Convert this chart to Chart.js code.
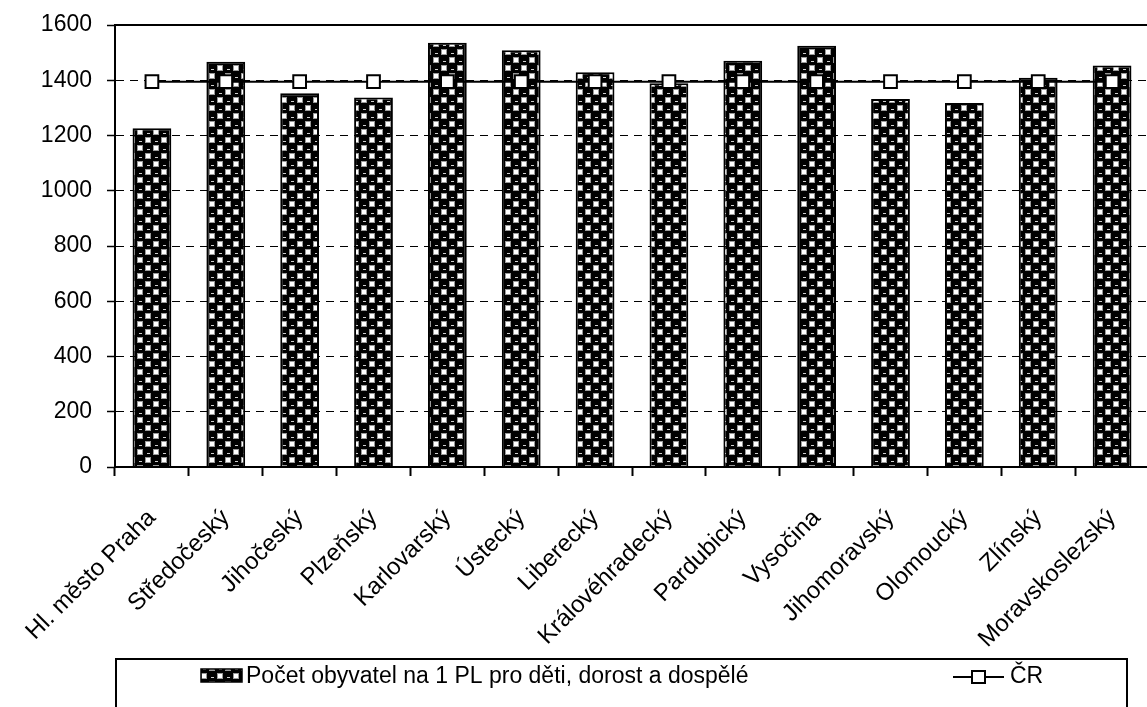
<!DOCTYPE html>
<html>
<head>
<meta charset="utf-8">
<script src="https://cdn.jsdelivr.net/npm/chart.js@4/dist/chart.umd.min.js"></script>
<style>
  html, body { margin: 0; padding: 0; overflow: hidden; background: #fff; }
  #wrap { width: 1160px; height: 707px; }
</style>
</head>
<body>
<div id="wrap"><canvas id="graf" width="1160" height="707"></canvas></div>
<script>
// kraje
var kraje = ["Hl. město Praha", "Středočeský", "Jihočeský", "Plzeňský", "Karlovarský", "Ústecký",
    "Liberecký", "Královéhradecký", "Pardubický", "Vysočina", "Jihomoravský", "Olomoucký",
    "Zlínský", "Moravskoslezský"];

// pocet obyvatel na 1 PL
var obyvatelNaPL = [1226, 1467, 1353, 1338, 1536, 1509, 1429, 1389, 1471, 1525, 1332, 1318, 1409, 1453];

// prumer CR
var prumerCR = [1395, 1395, 1395, 1395, 1395, 1395, 1395, 1395, 1395, 1395, 1395, 1395, 1395, 1395];

var osaY = [0, 200, 400, 600, 800, 1000, 1200, 1400, 1600];

var nazevBar = "Počet obyvatel na 1 PL pro děti, dorost a dospělé";
var nazevLine = "ČR";

var pismo = "'Liberation Sans', Arial, sans-serif";

// vzorek s kulickama jako v excelu
function udelejVzorek() {
    var c = document.createElement('canvas');
    c.width = 16;
    c.height = 16;
    var x = c.getContext('2d');
    x.fillStyle = '#000';
    x.fillRect(0, 0, 16, 16);
    // bile ctverecky
    x.fillStyle = '#fff';
    x.strokeStyle = '#999';
    x.lineWidth = 1;
    x.fillRect(10, 2, 4, 4);
    x.strokeRect(9.5, 1.5, 5, 5);
    x.fillRect(2, 10, 4, 4);
    x.strokeRect(1.5, 9.5, 5, 5);
    // odlesky na kulickach
    x.fillStyle = '#cfcfcf';
    x.fillRect(3, 5, 3, 1);
    x.fillRect(11, 13, 3, 1);
    return x.createPattern(c, 'repeat');
}
var vzorek = udelejVzorek();

var ramecek = {
    id: 'ramecek',
    afterDraw: function (chart) {
        var ctx = chart.ctx;
        var a = chart.chartArea;
        ctx.save();
        ctx.strokeStyle = '#000';
        ctx.lineWidth = 2;
        ctx.strokeRect(a.left, a.top, a.right - a.left, a.bottom - a.top);

        // legenda dole
        ctx.strokeRect(116, 659, 1011, 80);
        ctx.fillStyle = vzorek;
        ctx.fillRect(201, 669, 41, 13);
        ctx.lineWidth = 1.5;
        ctx.strokeRect(201, 669, 41, 13);

        ctx.fillStyle = '#000';
        ctx.font = '23px ' + pismo;
        ctx.textBaseline = 'middle';
        ctx.textAlign = 'left';
        ctx.fillText(chart.data.datasets[1].label, 246, 677);

        ctx.lineWidth = 2;
        ctx.beginPath();
        ctx.moveTo(953, 677);
        ctx.lineTo(1004, 677);
        ctx.stroke();
        ctx.fillStyle = '#fff';
        ctx.fillRect(972, 671, 13, 12);
        ctx.strokeRect(972, 671, 13, 12);
        ctx.fillStyle = '#000';
        ctx.fillText(chart.data.datasets[0].label, 1010, 677);
        ctx.restore();
    }
};

var ctx = document.getElementById('graf');
var myChart = new Chart(ctx, {
    type: 'bar',
    data: {
        labels: kraje,
        datasets: [{
            type: 'line',
            label: nazevLine,
            data: prumerCR,
            borderColor: '#000',
            borderWidth: 2,
            pointStyle: 'rect',
            pointRadius: 9,
            pointBackgroundColor: '#fff',
            pointBorderColor: '#000',
            pointBorderWidth: 2,
            order: 0
        }, {
            label: nazevBar,
            data: obyvatelNaPL,
            backgroundColor: vzorek,
            borderColor: '#000',
            borderWidth: 2,
            barPercentage: 0.525,
            categoryPercentage: 1,
            order: 1
        }]
    },
    options: {
        responsive: false,
        animation: false,
        layout: { padding: { top: 25, right: 5, left: 0, bottom: 0 } },
        plugins: {
            legend: { display: false },
            tooltip: { enabled: false }
        },
        scales: {
            x: {
                afterFit: function (s) {
                    s.height = 240;
                    s.paddingLeft = 0;
                    s.paddingRight = 0;
                },
                grid: {
                    display: true,
                    drawOnChartArea: false,
                    offset: true,
                    color: '#000',
                    tickLength: 9,
                    tickWidth: 2
                },
                border: { color: '#000', width: 2 },
                ticks: {
                    color: '#000',
                    font: { family: pismo, size: 24 },
                    minRotation: 45,
                    maxRotation: 45,
                    padding: 28,
                    autoSkip: false
                }
            },
            y: {
                min: 0,
                max: 1600,
                afterFit: function (s) {
                    s.width = 115;
                    s.paddingTop = 0;
                    s.paddingBottom = 0;
                },
                afterBuildTicks: function (s) {
                    s.ticks = osaY.map(function (v) { return { value: v }; });
                },
                grid: {
                    color: '#000',
                    lineWidth: 1,
                    tickLength: 8,
                    tickWidth: 1.5
                },
                border: { color: '#000', width: 2, dash: [8, 6] },
                ticks: {
                    color: '#000',
                    font: { family: pismo, size: 23 },
                    padding: 15,
                    callback: function (v) { return String(v); }
                }
            }
        }
    },
    plugins: [ramecek]
});
</script>
</body>
</html>
